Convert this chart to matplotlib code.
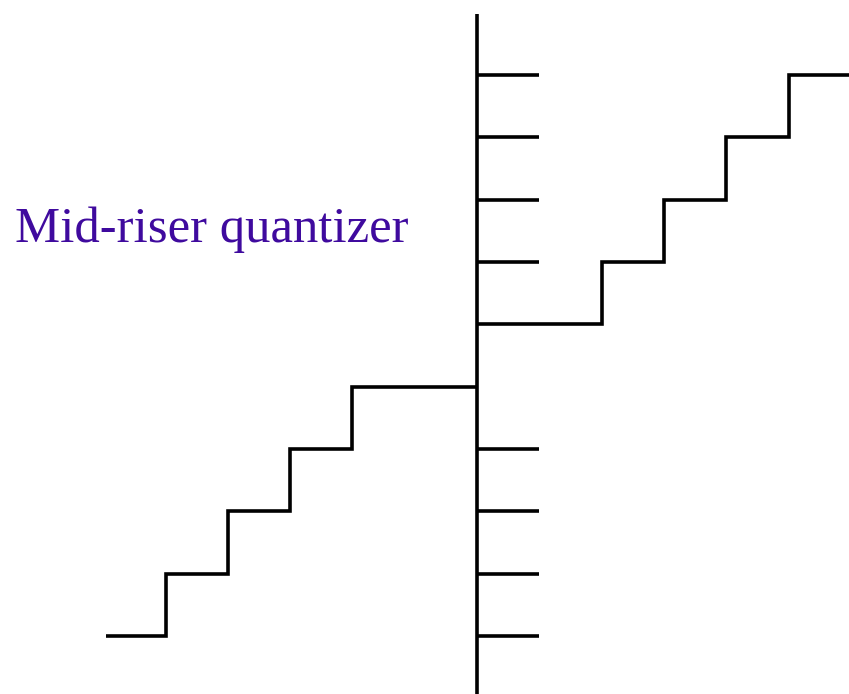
import matplotlib
matplotlib.use("Agg")
import matplotlib.pyplot as plt
import numpy as np

# Quantizer staircase data (in step units)
right_edges = [0, 2, 3, 4, 5, 6]          # input breakpoints, positive side
right_levels = [0.5, 1.5, 2.5, 3.5, 4.5]  # output levels
left_edges = [-5.95, -5, -4, -3, -2, 0]
left_levels = [-4.5, -3.5, -2.5, -1.5, -0.5]
tick_levels = [4.5, 3.5, 2.5, 1.5, -1.5, -2.5, -3.5, -4.5]
tick_length = 1.0
axis_top = 5.48
title = "Mid-riser quantizer"

W, H = 849, 694
u = 62.3
x0, y0 = 477, 355.5

fig = plt.figure(figsize=(W / 100, H / 100), dpi=100)
ax = fig.add_axes([0, 0, 1, 1])
ax.set_xlim(-x0 / u, (W - x0) / u)
ax.set_ylim((y0 - H) / u, y0 / u)
ax.axis("off")

lw = 2.6
col = "black"

# vertical axis
ax.plot([0, 0], [(y0 - H) / u - 1, axis_top], color=col, lw=lw, solid_capstyle="butt")

# ticks
for t in tick_levels:
    ax.plot([0, tick_length], [t, t], color=col, lw=lw, solid_capstyle="butt")

# staircases
for edges, levels in [(right_edges, right_levels), (left_edges, left_levels)]:
    xs, ys = [], []
    for i, lv in enumerate(levels):
        xs += [edges[i], edges[i + 1]]
        ys += [lv, lv]
    ax.plot(xs, ys, color=col, lw=lw, solid_joinstyle="miter", solid_capstyle="butt")

ax.text((15 - x0) / u, (y0 - 242) / u, title, color="#3F0A9E",
        fontsize=36.5, family=["Liberation Serif", "DejaVu Serif"],
        ha="left", va="baseline")

fig.savefig("out.png", dpi=100)
